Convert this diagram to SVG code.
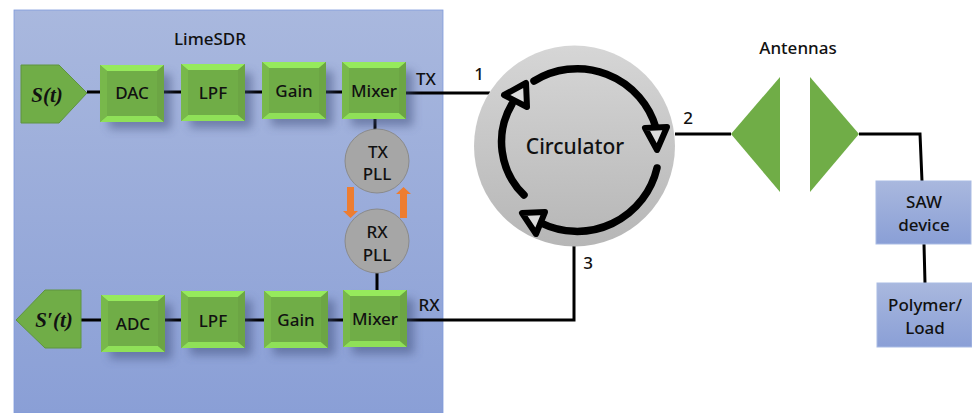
<svg xmlns="http://www.w3.org/2000/svg" width="972" height="413" viewBox="0 0 972 413">
<style>
text{font-family:"Noto Sans","Open Sans","Liberation Sans",sans-serif;font-size:17px;fill:#111;text-anchor:middle;font-weight:500}
.math{font-family:"Liberation Serif",serif;font-size:21px;font-weight:700;font-style:italic}
.wire{fill:none;stroke:#000;stroke-width:3}
.arc{fill:none;stroke:#000;stroke-width:7.500;stroke-linecap:round}
.tri{fill:#dcdcdc;stroke:#000;stroke-width:6;stroke-linejoin:round}
.face{fill:#70ad47}.t{fill:#96ea5c}.b{fill:#8fe058}.l{fill:#78b84b}.r{fill:#6ca544}
.sh{fill:#3c4c78;opacity:.5;filter:url(#blur)}
.pll{fill:#a6a6a6;stroke:#8a8a8a;stroke-width:1}
.tag{fill:#70ad47;stroke:#5f9440;stroke-width:1}
.ant{fill:#70ad47}
.blue{fill:url(#bg);stroke:#a9bbe4;stroke-width:1}
.org{fill:#ed7d31}
</style>
<defs>
<linearGradient id="bg" x1="0" y1="0" x2="0" y2="1"><stop offset="0" stop-color="#a9b8de"/><stop offset="1" stop-color="#8a9fd6"/></linearGradient>
<linearGradient id="cg" x1="0" y1="0" x2="0" y2="1"><stop offset="0" stop-color="#d6d6d6"/><stop offset="1" stop-color="#b6b6b6"/></linearGradient>
<filter id="blur" x="-30%" y="-30%" width="160%" height="160%"><feGaussianBlur stdDeviation="5"/></filter>
<g id="block">
<rect class="sh" x="9" y="9" width="62" height="55"/>
<rect class="face" width="64" height="57"/>
<polygon class="t" points="0,0 64,0 57,6 7,6"/>
<polygon class="b" points="0,57 64,57 57,51 7,51"/>
<polygon class="l" points="0,0 7,6 7,51 0,57"/>
<polygon class="r" points="64,0 57,6 57,51 64,57"/>
</g>
</defs>
<rect width="972" height="413" fill="#fff"/>
<g id="panel"><rect x="14" y="10" width="429" height="403" fill="url(#bg)" stroke="#7f9bdc" stroke-width="0.8"/><text x="210" y="45">LimeSDR</text></g>
<g id="connectors">
<path class="wire" d="M87 92H100M164 92H181M245 92H262M326 92H342M406 93H490"/>
<path class="wire" d="M375 119V130M377 273V290"/>
<path class="wire" d="M81 320H101M164 320H181M245 320H264M327 320H343"/>
<path class="wire" d="M407 320H574V246"/>
<path class="wire" d="M675 134H731"/>
<path class="wire" d="M859 134H920L922 181M924 244L925 283"/>
</g>
<g id="s-t"><polygon class="tag" points="21,65 59,65 87,93 59,123 21,123"/><text class="math" x="47" y="102">S(t)</text></g>
<g id="dac"><use href="#block" x="100" y="65"/><text x="132" y="99">DAC</text></g>
<g id="lpf-tx"><use href="#block" x="181" y="64"/><text x="213" y="99">LPF</text></g>
<g id="gain-tx"><use href="#block" x="262" y="62"/><text x="294" y="97">Gain</text></g>
<g id="mixer-tx"><use href="#block" x="342" y="62"/><text x="374" y="97">Mixer</text></g>
<g id="tx-label"><text x="426" y="85">TX</text></g>
<g id="tx-pll"><circle class="pll" cx="377" cy="161" r="32"/><text x="378" y="158">TX</text><text x="377" y="180">PLL</text></g>
<g id="rx-pll"><circle class="pll" cx="377" cy="241" r="32"/><text x="377" y="238">RX</text><text x="377" y="261">PLL</text></g>
<g id="pll-arrows">
<polygon class="org" points="347,187 354,187 354,211 358,211 350.500,218 343,211 347,211"/>
<polygon class="org" points="400,218 407,218 407,194 411,194 403.500,187 396,194 400,194"/>
</g>
<g id="s-prime"><polygon class="tag" points="16,320 45,290 81,290 81,348 45,348"/><text class="math" x="54" y="327">S′(t)</text></g>
<g id="adc"><use href="#block" x="101" y="295"/><text x="133" y="330">ADC</text></g>
<g id="lpf-rx"><use href="#block" x="181" y="291"/><text x="213" y="327">LPF</text></g>
<g id="gain-rx"><use href="#block" x="264" y="291"/><text x="296" y="326">Gain</text></g>
<g id="mixer-rx"><use href="#block" x="343" y="290"/><text x="375" y="325">Mixer</text></g>
<g id="rx-label"><text x="429" y="311">RX</text></g>
<g id="circulator">
<circle cx="574.500" cy="146" r="100.500" fill="url(#cg)"/>
<path class="arc" d="M534 81A82 82 0 0 1 656 128"/>
<path class="arc" d="M657 168A82 82 0 0 1 541 223"/>
<path class="arc" d="M524 195A74 74 0 0 1 512 104"/>
<polygon class="tri" points="504,95 526,83 527,107"/>
<polygon class="tri" points="645,128 667,127 657,150"/>
<polygon class="tri" points="522,213 545,212 536,234"/>
<text x="575" y="154" style="font-size:21px">Circulator</text>
</g>
<g id="port-labels"><text x="479" y="80">1</text><text x="688" y="124">2</text><text x="588" y="269">3</text></g>
<g id="antennas"><polygon class="ant" points="731,134 780,77 780,192"/><polygon class="ant" points="810,77 859,134 810,192"/><text x="798" y="54">Antennas</text></g>
<g id="saw"><rect class="blue" x="876" y="181" width="95" height="63"/><text x="924" y="208">SAW</text><text x="924" y="231">device</text></g>
<g id="polymer"><rect class="blue" x="877" y="283" width="95" height="64"/><text x="925" y="311">Polymer/</text><text x="925" y="334">Load</text></g>
</svg>
